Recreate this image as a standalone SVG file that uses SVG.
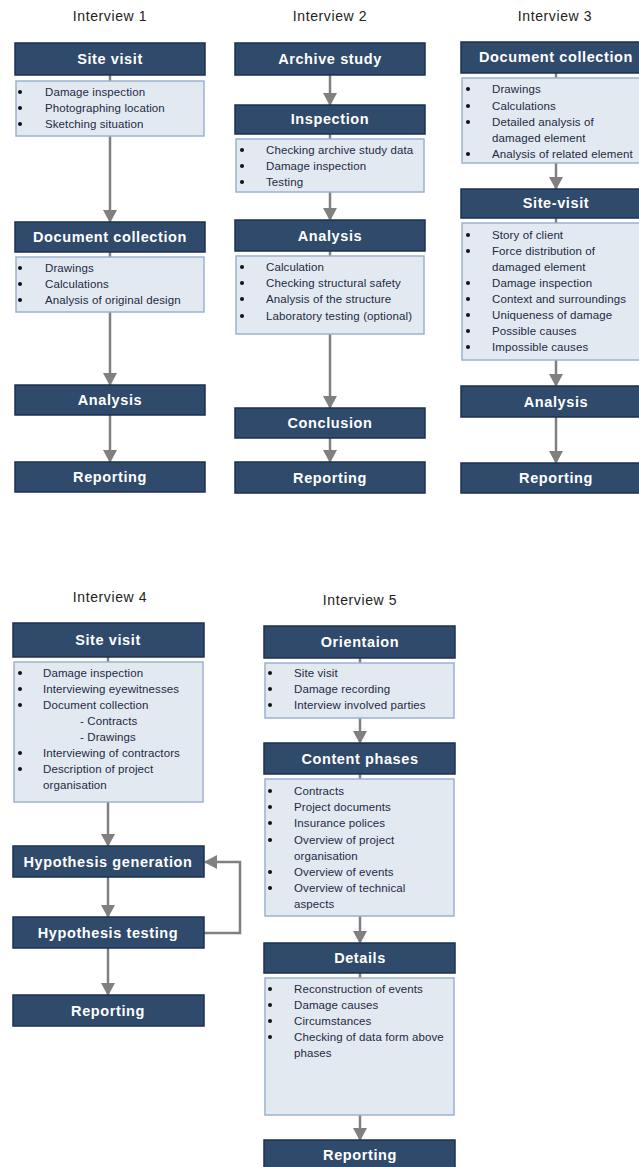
<svg xmlns="http://www.w3.org/2000/svg" width="639" height="1167" viewBox="0 0 639 1167">
<style>
.bg{fill:#ffffff}
.hd{fill:#2F4A6B;stroke:#1C3152;stroke-width:1.5}
.ht{font-family:"Liberation Sans",Arial,sans-serif;font-size:14.5px;font-weight:bold;letter-spacing:0.6px;fill:#ffffff;text-anchor:middle}
.lb{fill:#E3E9F1;stroke:#9CB2D0;stroke-width:1.5}
.lt{font-family:"Liberation Sans",Arial,sans-serif;font-size:11.5px;letter-spacing:0.1px;fill:#1E2A44}
.ti{font-family:"Liberation Sans",Arial,sans-serif;font-size:14px;letter-spacing:0.6px;fill:#222222;text-anchor:middle}
.bu{fill:#111111}
.cn{stroke:#808080;stroke-width:2.5;fill:none}
.ar{stroke:#808080;stroke-width:2.5;fill:none;marker-end:url(#ah)}
</style>
<defs>
<marker id="ah" markerUnits="userSpaceOnUse" markerWidth="14" markerHeight="14" viewBox="0 0 14 14" refX="12" refY="7" orient="auto">
<path d="M0,0 L13,7 L0,14 Z" fill="#808080"/>
</marker>
</defs>
<rect class="bg" x="0" y="0" width="639" height="1167"/>

<g id="connectors">
<!-- Interview 1 -->
<line class="cn" x1="110" y1="75" x2="110" y2="81"/>
<line class="ar" x1="110" y1="136" x2="110" y2="222"/>
<line class="cn" x1="110" y1="252" x2="110" y2="257"/>
<line class="ar" x1="110" y1="312" x2="110" y2="385"/>
<line class="ar" x1="110" y1="415" x2="110" y2="462"/>
<!-- Interview 2 -->
<line class="ar" x1="330" y1="75" x2="330" y2="105"/>
<line class="cn" x1="330" y1="134" x2="330" y2="139"/>
<line class="ar" x1="330" y1="192" x2="330" y2="220"/>
<line class="cn" x1="330" y1="251" x2="330" y2="256"/>
<line class="ar" x1="330" y1="334" x2="330" y2="408"/>
<line class="ar" x1="330" y1="438" x2="330" y2="462"/>
<!-- Interview 3 -->
<line class="cn" x1="556" y1="73" x2="556" y2="78"/>
<line class="ar" x1="556" y1="163" x2="556" y2="189"/>
<line class="cn" x1="556" y1="218" x2="556" y2="223"/>
<line class="ar" x1="556" y1="360" x2="556" y2="386"/>
<line class="ar" x1="556" y1="417" x2="556" y2="463"/>
<!-- Interview 4 -->
<line class="cn" x1="108" y1="657" x2="108" y2="662"/>
<line class="ar" x1="108" y1="802" x2="108" y2="846"/>
<line class="ar" x1="108" y1="877" x2="108" y2="917"/>
<line class="ar" x1="108" y1="948" x2="108" y2="995"/>
<polyline class="ar" points="204,933 240,933 240,862 205,862"/>
<!-- Interview 5 -->
<line class="cn" x1="360" y1="658" x2="360" y2="663"/>
<line class="ar" x1="360" y1="718" x2="360" y2="743"/>
<line class="cn" x1="360" y1="774" x2="360" y2="779"/>
<line class="ar" x1="360" y1="916" x2="360" y2="943"/>
<line class="cn" x1="360" y1="973" x2="360" y2="978"/>
<line class="ar" x1="360" y1="1115" x2="360" y2="1140"/>
</g>

<!-- Titles -->
<g id="titles">
<text class="ti" x="110" y="21">Interview 1</text>
<text class="ti" x="330" y="21">Interview 2</text>
<text class="ti" x="555" y="21">Interview 3</text>
<text class="ti" x="110" y="602">Interview 4</text>
<text class="ti" x="360" y="605">Interview 5</text>
</g>

<!-- Interview 1 -->
<g id="i1-site-visit">
<rect class="hd" x="15" y="43" width="190" height="32"/>
<text class="ht" x="110" y="64">Site visit</text>
</g>
<g id="i1-site-visit-list">
<rect class="lb" x="16" y="81" width="188" height="55"/>
<circle class="bu" cx="20" cy="92" r="2"/><text class="lt" x="45" y="96">Damage inspection</text>
<circle class="bu" cx="20" cy="108" r="2"/><text class="lt" x="45" y="112">Photographing location</text>
<circle class="bu" cx="20" cy="124" r="2"/><text class="lt" x="45" y="128">Sketching situation</text>
</g>
<g id="i1-document-collection">
<rect class="hd" x="15" y="222" width="190" height="30"/>
<text class="ht" x="110" y="242">Document collection</text>
</g>
<g id="i1-document-list">
<rect class="lb" x="16" y="257" width="188" height="55"/>
<circle class="bu" cx="20" cy="268" r="2"/><text class="lt" x="45" y="272">Drawings</text>
<circle class="bu" cx="20" cy="284" r="2"/><text class="lt" x="45" y="288">Calculations</text>
<circle class="bu" cx="20" cy="300" r="2"/><text class="lt" x="45" y="304">Analysis of original design</text>
</g>
<g id="i1-analysis">
<rect class="hd" x="15" y="385" width="190" height="30"/>
<text class="ht" x="110" y="405">Analysis</text>
</g>
<g id="i1-reporting">
<rect class="hd" x="15" y="462" width="190" height="30"/>
<text class="ht" x="110" y="482">Reporting</text>
</g>

<!-- Interview 2 -->
<g id="i2-archive-study">
<rect class="hd" x="235" y="43" width="190" height="32"/>
<text class="ht" x="330" y="64">Archive study</text>
</g>
<g id="i2-inspection">
<rect class="hd" x="235" y="105" width="190" height="29"/>
<text class="ht" x="330" y="124">Inspection</text>
</g>
<g id="i2-inspection-list">
<rect class="lb" x="236" y="139" width="188" height="53"/>
<circle class="bu" cx="242" cy="150" r="2"/><text class="lt" x="266" y="154">Checking archive study data</text>
<circle class="bu" cx="242" cy="166" r="2"/><text class="lt" x="266" y="170">Damage inspection</text>
<circle class="bu" cx="242" cy="182" r="2"/><text class="lt" x="266" y="186">Testing</text>
</g>
<g id="i2-analysis">
<rect class="hd" x="235" y="220" width="190" height="31"/>
<text class="ht" x="330" y="241">Analysis</text>
</g>
<g id="i2-analysis-list">
<rect class="lb" x="236" y="256" width="188" height="78"/>
<circle class="bu" cx="242" cy="267" r="2"/><text class="lt" x="266" y="271">Calculation</text>
<circle class="bu" cx="242" cy="283" r="2"/><text class="lt" x="266" y="287">Checking structural safety</text>
<circle class="bu" cx="242" cy="299" r="2"/><text class="lt" x="266" y="303">Analysis of the structure</text>
<circle class="bu" cx="242" cy="316" r="2"/><text class="lt" x="266" y="320">Laboratory testing (optional)</text>
</g>
<g id="i2-conclusion">
<rect class="hd" x="235" y="408" width="190" height="30"/>
<text class="ht" x="330" y="428">Conclusion</text>
</g>
<g id="i2-reporting">
<rect class="hd" x="235" y="462" width="190" height="31"/>
<text class="ht" x="330" y="483">Reporting</text>
</g>

<!-- Interview 3 -->
<g id="i3-document-collection">
<rect class="hd" x="461" y="42" width="190" height="31"/>
<text class="ht" x="556" y="62">Document collection</text>
</g>
<g id="i3-document-list">
<rect class="lb" x="462" y="78" width="188" height="85"/>
<circle class="bu" cx="468" cy="89" r="2"/><text class="lt" x="492" y="93">Drawings</text>
<circle class="bu" cx="468" cy="106" r="2"/><text class="lt" x="492" y="110">Calculations</text>
<circle class="bu" cx="468" cy="122" r="2"/><text class="lt" x="492" y="126">Detailed analysis of</text>
<text class="lt" x="492" y="142">damaged element</text>
<circle class="bu" cx="468" cy="154" r="2"/><text class="lt" x="492" y="158">Analysis of related element</text>
</g>
<g id="i3-site-visit">
<rect class="hd" x="461" y="189" width="190" height="29"/>
<text class="ht" x="556" y="208">Site-visit</text>
</g>
<g id="i3-site-visit-list">
<rect class="lb" x="462" y="223" width="188" height="137"/>
<circle class="bu" cx="468" cy="235" r="2"/><text class="lt" x="492" y="239">Story of client</text>
<circle class="bu" cx="468" cy="251" r="2"/><text class="lt" x="492" y="255">Force distribution of</text>
<text class="lt" x="492" y="271">damaged element</text>
<circle class="bu" cx="468" cy="283" r="2"/><text class="lt" x="492" y="287">Damage inspection</text>
<circle class="bu" cx="468" cy="299" r="2"/><text class="lt" x="492" y="303">Context and surroundings</text>
<circle class="bu" cx="468" cy="315" r="2"/><text class="lt" x="492" y="319">Uniqueness of damage</text>
<circle class="bu" cx="468" cy="331" r="2"/><text class="lt" x="492" y="335">Possible causes</text>
<circle class="bu" cx="468" cy="347" r="2"/><text class="lt" x="492" y="351">Impossible causes</text>
</g>
<g id="i3-analysis">
<rect class="hd" x="461" y="386" width="190" height="31"/>
<text class="ht" x="556" y="407">Analysis</text>
</g>
<g id="i3-reporting">
<rect class="hd" x="461" y="463" width="190" height="30"/>
<text class="ht" x="556" y="483">Reporting</text>
</g>

<!-- Interview 4 -->
<g id="i4-site-visit">
<rect class="hd" x="13" y="623" width="191" height="34"/>
<text class="ht" x="108" y="645">Site visit</text>
</g>
<g id="i4-site-visit-list">
<rect class="lb" x="14" y="662" width="189" height="140"/>
<circle class="bu" cx="20" cy="673" r="2"/><text class="lt" x="43" y="677">Damage inspection</text>
<circle class="bu" cx="20" cy="689" r="2"/><text class="lt" x="43" y="693">Interviewing eyewitnesses</text>
<circle class="bu" cx="20" cy="705" r="2"/><text class="lt" x="43" y="709">Document collection</text>
<text class="lt" x="80" y="725">- Contracts</text>
<text class="lt" x="80" y="741">- Drawings</text>
<circle class="bu" cx="20" cy="753" r="2"/><text class="lt" x="43" y="757">Interviewing of contractors</text>
<circle class="bu" cx="20" cy="769" r="2"/><text class="lt" x="43" y="773">Description of project</text>
<text class="lt" x="43" y="789">organisation</text>
</g>
<g id="i4-hypothesis-generation">
<rect class="hd" x="13" y="846" width="191" height="31"/>
<text class="ht" x="108" y="867">Hypothesis generation</text>
</g>
<g id="i4-hypothesis-testing">
<rect class="hd" x="13" y="917" width="191" height="31"/>
<text class="ht" x="108" y="938">Hypothesis testing</text>
</g>
<g id="i4-reporting">
<rect class="hd" x="13" y="995" width="191" height="31"/>
<text class="ht" x="108" y="1016">Reporting</text>
</g>

<!-- Interview 5 -->
<g id="i5-orientaion">
<rect class="hd" x="264" y="626" width="191" height="32"/>
<text class="ht" x="360" y="647">Orientaion</text>
</g>
<g id="i5-orientaion-list">
<rect class="lb" x="265" y="663" width="189" height="55"/>
<circle class="bu" cx="270" cy="673" r="2"/><text class="lt" x="294" y="677">Site visit</text>
<circle class="bu" cx="270" cy="689" r="2"/><text class="lt" x="294" y="693">Damage recording</text>
<circle class="bu" cx="270" cy="705" r="2"/><text class="lt" x="294" y="709">Interview involved parties</text>
</g>
<g id="i5-content-phases">
<rect class="hd" x="264" y="743" width="191" height="31"/>
<text class="ht" x="360" y="764">Content phases</text>
</g>
<g id="i5-content-list">
<rect class="lb" x="265" y="779" width="189" height="137"/>
<circle class="bu" cx="270" cy="791" r="2"/><text class="lt" x="294" y="795">Contracts</text>
<circle class="bu" cx="270" cy="807" r="2"/><text class="lt" x="294" y="811">Project documents</text>
<circle class="bu" cx="270" cy="823" r="2"/><text class="lt" x="294" y="827">Insurance polices</text>
<circle class="bu" cx="270" cy="840" r="2"/><text class="lt" x="294" y="844">Overview of project</text>
<text class="lt" x="294" y="860">organisation</text>
<circle class="bu" cx="270" cy="872" r="2"/><text class="lt" x="294" y="876">Overview of events</text>
<circle class="bu" cx="270" cy="888" r="2"/><text class="lt" x="294" y="892">Overview of technical</text>
<text class="lt" x="294" y="908">aspects</text>
</g>
<g id="i5-details">
<rect class="hd" x="264" y="943" width="191" height="30"/>
<text class="ht" x="360" y="963">Details</text>
</g>
<g id="i5-details-list">
<rect class="lb" x="265" y="978" width="189" height="137"/>
<circle class="bu" cx="270" cy="989" r="2"/><text class="lt" x="294" y="993">Reconstruction of events</text>
<circle class="bu" cx="270" cy="1005" r="2"/><text class="lt" x="294" y="1009">Damage causes</text>
<circle class="bu" cx="270" cy="1021" r="2"/><text class="lt" x="294" y="1025">Circumstances</text>
<circle class="bu" cx="270" cy="1037" r="2"/><text class="lt" x="294" y="1041">Checking of data form above</text>
<text class="lt" x="294" y="1057">phases</text>
</g>
<g id="i5-reporting">
<rect class="hd" x="264" y="1140" width="191" height="31"/>
<text class="ht" x="360" y="1160">Reporting</text>
</g>
</svg>
